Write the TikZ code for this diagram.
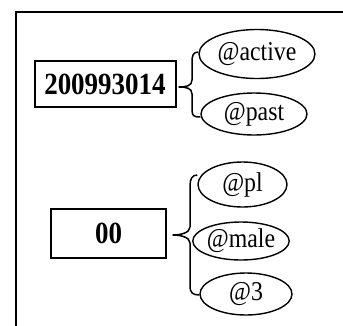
\documentclass[tikz,border=0pt]{standalone}
\usepackage{graphicx}
\usepackage{fontspec}
\setmainfont{Liberation Serif}
\usetikzlibrary{shapes.geometric}
% labels are set slightly condensed (taller than wide)
\newcommand\tallbox[1]{\scalebox{1}[1.14]{#1}}
\begin{document}
\begin{tikzpicture}[x=1pt,y=-1pt,
  valbox/.style={draw,line width=2pt,inner sep=0pt,
    font=\fontsize{27}{28}\selectfont\bfseries},
  feat/.style={draw,ellipse,line width=1.4pt,inner sep=0pt,
    font=\fontsize{23.8}{25}\selectfont},
  bracket/.style={line width=1.5pt,line join=round}]
\useasboundingbox (0,0) rectangle (343,325);
% open frame
\draw[line width=2pt] (15.7,330) -- (15.7,11.7) -- (350,11.7);

% first group
\node[valbox,minimum width=141pt,minimum height=46pt] (v1) at (105,84) {\tallbox{200993014}};
\node[feat,minimum width=116pt,minimum height=49pt] (f1) at (257,54) {\tallbox{@active}};
\node[feat,minimum width=106pt,minimum height=42pt] (f2) at (254,114) {\tallbox{@past}};
\coordinate (t1) at (179,87);
\draw[bracket] (f1.west |- 0,52) .. controls (193,52) and (192,56) .. (192,62)
  -- (192,80) .. controls (192,86) and (186,87) .. (t1)
  .. controls (186,87) and (192,88) .. (192,94)
  -- (192,110) .. controls (192,116) and (194,117) .. (f2.west |- 0,117);

% second group
\node[valbox,minimum width=115pt,minimum height=49pt] (v2) at (108.5,233.5) {\tallbox{00}};
\node[feat,minimum width=89pt,minimum height=45pt] (f3) at (242.5,184.5) {\tallbox{@pl}};
\node[feat,minimum width=92pt,minimum height=38pt] (f4) at (241,241) {\tallbox{@male}};
\node[feat,minimum width=92pt,minimum height=42pt] (f5) at (246,294) {\tallbox{@3}};
\coordinate (t2) at (173,235);
\draw[bracket] (f3.west |- 0,175) .. controls (192,175) and (190,179) .. (190,186)
  -- (190,227) .. controls (190,233) and (180,235) .. (t2)
  .. controls (180,235) and (190,237) .. (190,243)
  -- (190,286) .. controls (190,293) and (193,295) .. (f5.west |- 0,295);
\end{tikzpicture}
\end{document}
